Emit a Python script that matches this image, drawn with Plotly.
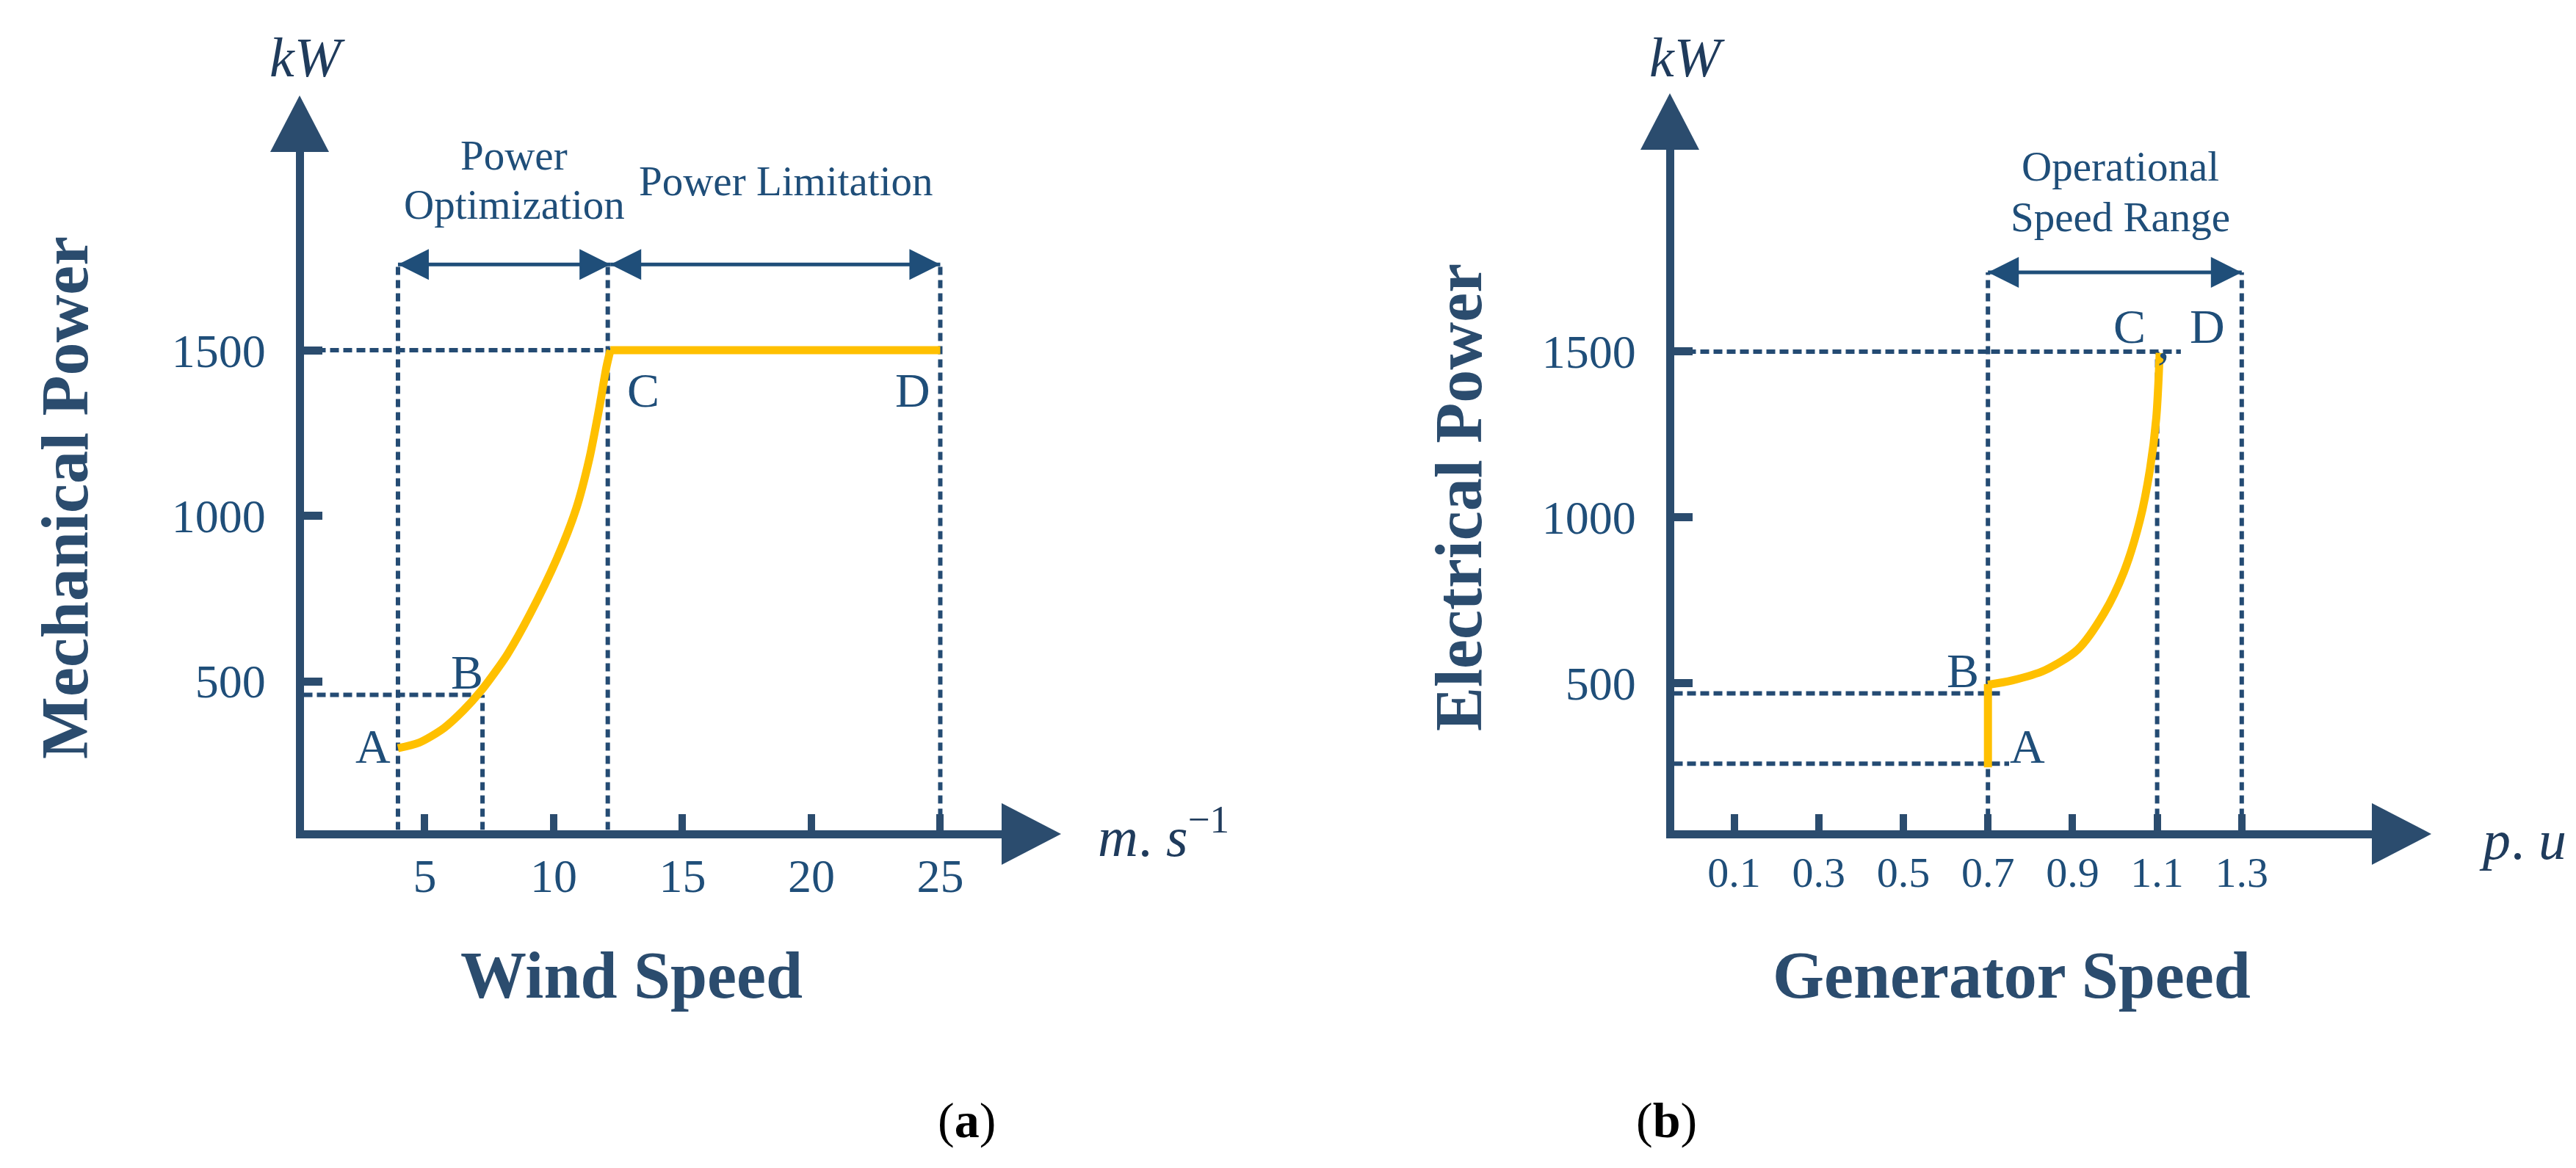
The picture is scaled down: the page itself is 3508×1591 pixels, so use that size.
import plotly.graph_objects as go

# ---------------- data ----------------
wind_ticks = [5, 10, 15, 20, 25]
gen_ticks = [0.1, 0.3, 0.5, 0.7, 0.9, 1.1, 1.3]
gen_tick_text = ["0.1", "0.3", "0.5", "0.7", "0.9", "1.1", "1.3"]
power_ticks = [500, 1000, 1500]

# panel (a): mechanical power vs wind speed (m/s, kW)
wind_curve = [3.96, 4.79, 5.75, 6.5, 7.17, 7.74, 8.21, 9.09, 10.11, 10.88, 11.38, 11.77, 12.05, 12.2]
mech_curve = [298, 315, 359, 412, 470, 529, 582, 704, 868, 1023, 1171, 1326, 1450, 1500]
wind_rated = [12.2, 25]
mech_rated = [1500, 1500]
wind_A, wind_B, wind_C, wind_D = 3.96, 7.24, 12.1, 25
mech_B = 459
rated_power = 1500
zone_level_a = 1759

# panel (b): electrical power vs generator speed (p.u, kW)
gen_vertical = [0.70, 0.70]
elec_vertical = [246, 497]
gen_curve = [0.70, 0.757, 0.835, 0.912, 0.974, 1.021, 1.059, 1.083, 1.098, 1.106]
elec_curve = [495, 508, 539, 601, 710, 834, 990, 1145, 1301, 1496]
gen_A, gen_C, gen_D = 0.70, 1.10, 1.30
elec_A, elec_B = 257, 469
gen_A_end, gen_B_end, gen_rated_end = 0.75, 0.735, 1.156
zone_level_b = 1739

# ---------------- style ----------------
W, H = 3508, 1591
NAVY = "#2B4C6E"
DASHC = "#244B73"
TXT = "#1F4E79"
GOLD = "#FFC000"
SERIF = "Liberation Serif, Times New Roman, serif"

X_RANGE_A = [0.3, 27.38]
Y_RANGE_A = [51, 2099]
X_RANGE_B = [-0.0425, 1.6076]
Y_RANGE_B = [57, 2109]


def px(v):
    return v / W


def py(v):
    return 1 - v / H


fig = go.Figure()


def line(xs, ys, xa, ya, color=DASHC, width=6, dash="12px,6px", shape="linear"):
    fig.add_trace(go.Scatter(x=xs, y=ys, mode="lines", xaxis=xa, yaxis=ya,
                             line=dict(color=color, width=width, dash=dash, shape=shape,
                                       smoothing=0.8 if shape == "spline" else None),
                             hoverinfo="skip", showlegend=False))


# ----- panel a -----
ya0, xa0 = Y_RANGE_A[0], X_RANGE_A[0]
VD = "11px,7px"
line([wind_A, wind_A], [ya0, zone_level_a], "x", "y", dash=VD)
line([wind_B, wind_B], [ya0, mech_B], "x", "y", dash=VD)
line([wind_C, wind_C], [ya0, zone_level_a], "x", "y", dash=VD)
line([wind_D, wind_D], [ya0, zone_level_a], "x", "y", dash=VD)
line([xa0, wind_rated[0]], [rated_power, rated_power], "x", "y")
line([xa0, wind_B], [mech_B, mech_B], "x", "y")
line(wind_curve, mech_curve, "x", "y", color=GOLD, width=11, dash="solid", shape="spline")
line(wind_rated, mech_rated, "x", "y", color=GOLD, width=11, dash="solid")
line([wind_A, wind_rated[0]], [zone_level_a] * 2, "x", "y", color=TXT, width=5, dash="solid")
line([wind_rated[0], wind_D], [zone_level_a] * 2, "x", "y", color=TXT, width=5, dash="solid")

# ----- panel b -----
yb0, xb0 = Y_RANGE_B[0], X_RANGE_B[0]
line([gen_A, gen_A], [yb0, zone_level_b], "x2", "y2", dash=VD)
line([gen_C, gen_C], [yb0, rated_power], "x2", "y2", dash=VD)
line([gen_D, gen_D], [yb0, zone_level_b], "x2", "y2", dash=VD)
line([xb0, gen_rated_end], [rated_power] * 2, "x2", "y2")
line([xb0, gen_B_end], [elec_B] * 2, "x2", "y2")
line([xb0, gen_A_end], [elec_A] * 2, "x2", "y2")
line(gen_vertical, elec_vertical, "x2", "y2", color=GOLD, width=11, dash="solid")
line(gen_curve, elec_curve, "x2", "y2", color=GOLD, width=11, dash="solid", shape="spline")
line([gen_A, gen_D], [zone_level_b] * 2, "x2", "y2", color=TXT, width=5, dash="solid")


# ----- arrow heads (pixel sized) -----
def head(xref, yref, xa, ya, path, color):
    fig.add_shape(type="path", xref=xref, yref=yref, xsizemode="pixel", ysizemode="pixel",
                  xanchor=xa, yanchor=ya, path=path, fillcolor=color,
                  line=dict(width=0), layer="above")


LEFT = "M 0,0 L 42,21 L 42,-21 Z"
RIGHT = "M 0,0 L -42,21 L -42,-21 Z"
for xr, yr, xs, lvl in [("x", "y", [wind_A, wind_rated[0]], zone_level_a),
                        ("x", "y", [wind_rated[0], wind_D], zone_level_a),
                        ("x2", "y2", [gen_A, gen_D], zone_level_b)]:
    head(xr, yr, xs[0], lvl, LEFT, TXT)
    head(xr, yr, xs[1], lvl, RIGHT, TXT)

for xr, yr in [("x domain", "y domain"), ("x2 domain", "y2 domain")]:
    head(xr, yr, 0, 1, "M -45.5,0 L 34.5,0 L -5.5,77 Z", NAVY)
    head(xr, yr, 1, 0, "M 0,36.5 L 0,-47.5 L 81,-5.5 Z", NAVY)

# ----- axes -----
common = dict(showline=True, linewidth=11, linecolor=NAVY, ticks="inside",
              tickcolor=NAVY, showgrid=False, zeroline=False, fixedrange=True)
fig.update_layout(
    xaxis=dict(domain=[px(405.5), px(1356)], range=X_RANGE_A, anchor="y",
               tickvals=wind_ticks, ticktext=[str(v) for v in wind_ticks],
               ticklen=22, tickwidth=10, ticklabelstandoff=-3,
               tickfont=dict(family=SERIF, size=64, color=TXT), **common),
    yaxis=dict(domain=[py(1122.5), py(199)], range=Y_RANGE_A, anchor="x",
               tickvals=power_ticks, ticktext=[str(v) for v in power_ticks],
               ticklen=25, tickwidth=11, ticklabelstandoff=28,
               tickfont=dict(family=SERIF, size=64, color=TXT), **common),
    xaxis2=dict(domain=[px(2271.5), px(3222)], range=X_RANGE_B, anchor="y2",
                tickvals=gen_ticks, ticktext=gen_tick_text,
                ticklen=22, tickwidth=10, ticklabelstandoff=-3,
                tickfont=dict(family=SERIF, size=58, color=TXT), **common),
    yaxis2=dict(domain=[py(1122.5), py(196)], range=Y_RANGE_B, anchor="x2",
                tickvals=power_ticks, ticktext=[str(v) for v in power_ticks],
                ticklen=25, tickwidth=11, ticklabelstandoff=28,
                tickfont=dict(family=SERIF, size=64, color=TXT), **common),
)

# ----- text -----
anns = []


def ann(text, x, y, size, color=TXT, angle=0, xanchor="center"):
    anns.append(dict(text=text, x=px(x), y=py(y), xref="paper", yref="paper",
                     showarrow=False, textangle=angle, xanchor=xanchor, yanchor="middle",
                     font=dict(family=SERIF, size=size, color=color)))


ann("<b>Mechanical Power</b>", 80, 670, 90, NAVY, -90)
ann("<b>Electrical Power</b>", 1978, 670, 90, NAVY, -90)
ann("<b>Wind Speed</b>", 852, 1320, 90, NAVY)
ann("<b>Generator Speed</b>", 2731, 1320, 90, NAVY)
ann("(<b>a</b>)", 1308, 1518, 68, "#000000")
ann("(<b>b</b>)", 2261, 1518, 68, "#000000")
ann("<i>kW</i>", 411, 70, 76, "#1F3B5C")
ann("<i>kW</i>", 2290, 70, 76, "#1F3B5C")
ann("<i>m</i>. <i>s</i><sup>−1</sup>", 1485, 1126, 76, "#1F3B5C", xanchor="left")
ann("<i>p</i>. <i>u</i>", 3366, 1136, 76, "#1F3B5C", xanchor="left")
ann("Power", 692, 203, 57)
ann("Optimization", 692, 270, 57)
ann("Power Limitation", 1062, 238, 57)
ann("Operational", 2879, 219, 57)
ann("Speed Range", 2879, 288, 57)
for t, x, y in [("A", 500, 1008), ("B", 628, 907), ("C", 868, 523), ("D", 1235, 523),
                ("B", 2665, 905), ("A", 2753, 1008), ("C", 2892, 436), (",", 2938, 458),
                ("D", 2998, 436)]:
    ann(t, x, y, 66)

fig.update_layout(annotations=anns, width=W, height=H,
                  margin=dict(l=0, r=0, t=0, b=0),
                  paper_bgcolor="white", plot_bgcolor="white", showlegend=False)

fig.write_html("out.html")
